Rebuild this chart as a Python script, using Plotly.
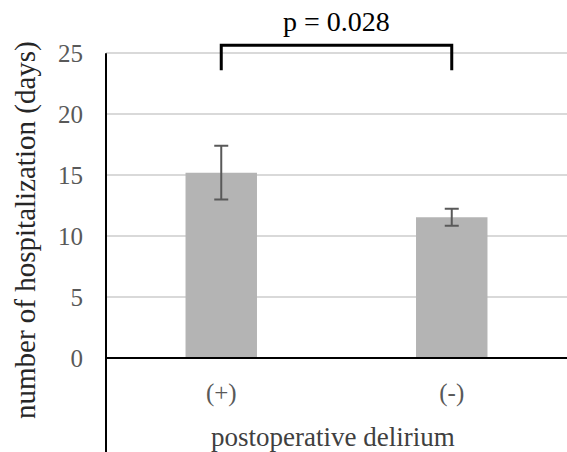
import plotly.graph_objects as go

categories = ["(+)", "(-)"]
means = [15.2, 11.55]
errors = [2.2, 0.7]
y_ticks = [0, 5, 10, 15, 20, 25]
p_text = "p = 0.028"
x_title = "postoperative delirium"
y_title = "number of hospitalization (days)"

FONT = "Liberation Serif"
Y_MIN, Y_MAX = -7.71, 26.0
bracket_low, bracket_high = 23.6, 25.66

fig = go.Figure()
fig.add_trace(go.Bar(
    x=categories, y=means, width=0.31,
    marker=dict(color="#b4b4b4", line=dict(width=0)),
    error_y=dict(type="data", array=errors, visible=True,
                 color="#595959", thickness=2, width=7),
))

fig.update_layout(
    width=567, height=452,
    margin=dict(l=106, r=0, t=41, b=0),
    plot_bgcolor="white", paper_bgcolor="white",
    showlegend=False,
    font=dict(family=FONT, color="#595959"),
    xaxis=dict(
        range=[-0.5, 1.5], anchor="free",
        position=(0 - Y_MIN) / (Y_MAX - Y_MIN),
        showline=True, linecolor="black", linewidth=2,
        showgrid=False, ticks="", ticklabelstandoff=12,
        tickfont=dict(size=25, color="#595959", family=FONT),
    ),
    yaxis=dict(
        range=[Y_MIN, Y_MAX], tickvals=y_ticks,
        showgrid=True, gridcolor="#d9d9d9", gridwidth=2,
        zeroline=False, showline=False, ticks="",
        ticklabelstandoff=22,
        tickfont=dict(size=25, color="#595959", family=FONT),
    ),
)

# y axis line (from bottom of figure up to the 25 gridline)
fig.add_shape(type="line", xref="paper", yref="y", x0=0, x1=0,
              y0=Y_MIN, y1=y_ticks[-1], line=dict(color="black", width=2))

# significance bracket
fig.add_shape(type="path", xref="x", yref="y",
              path=f"M 0,{bracket_low} L 0,{bracket_high} L 1,{bracket_high} L 1,{bracket_low}",
              line=dict(color="black", width=3))

fig.add_annotation(x=0.5, xref="x", y=bracket_high, yref="y", yshift=6,
                   text=p_text, showarrow=False, yanchor="bottom",
                   font=dict(size=28, color="black", family=FONT))

fig.add_annotation(x=(333 - 106) / 461, xref="paper", y=(452 - 437) / 411, yref="paper",
                   text=x_title, showarrow=False, xanchor="center", yanchor="middle",
                   font=dict(size=27, color="#404040", family=FONT))

fig.add_annotation(x=(25 - 106) / 461, xref="paper", y=(452 - 230) / 411, yref="paper",
                   text=y_title, textangle=-90, showarrow=False,
                   xanchor="center", yanchor="middle",
                   font=dict(size=29, color="#262626", family=FONT))

fig.write_html("out.html", config={"displayModeBar": False},
               post_script="document.body.style.margin='0';")
